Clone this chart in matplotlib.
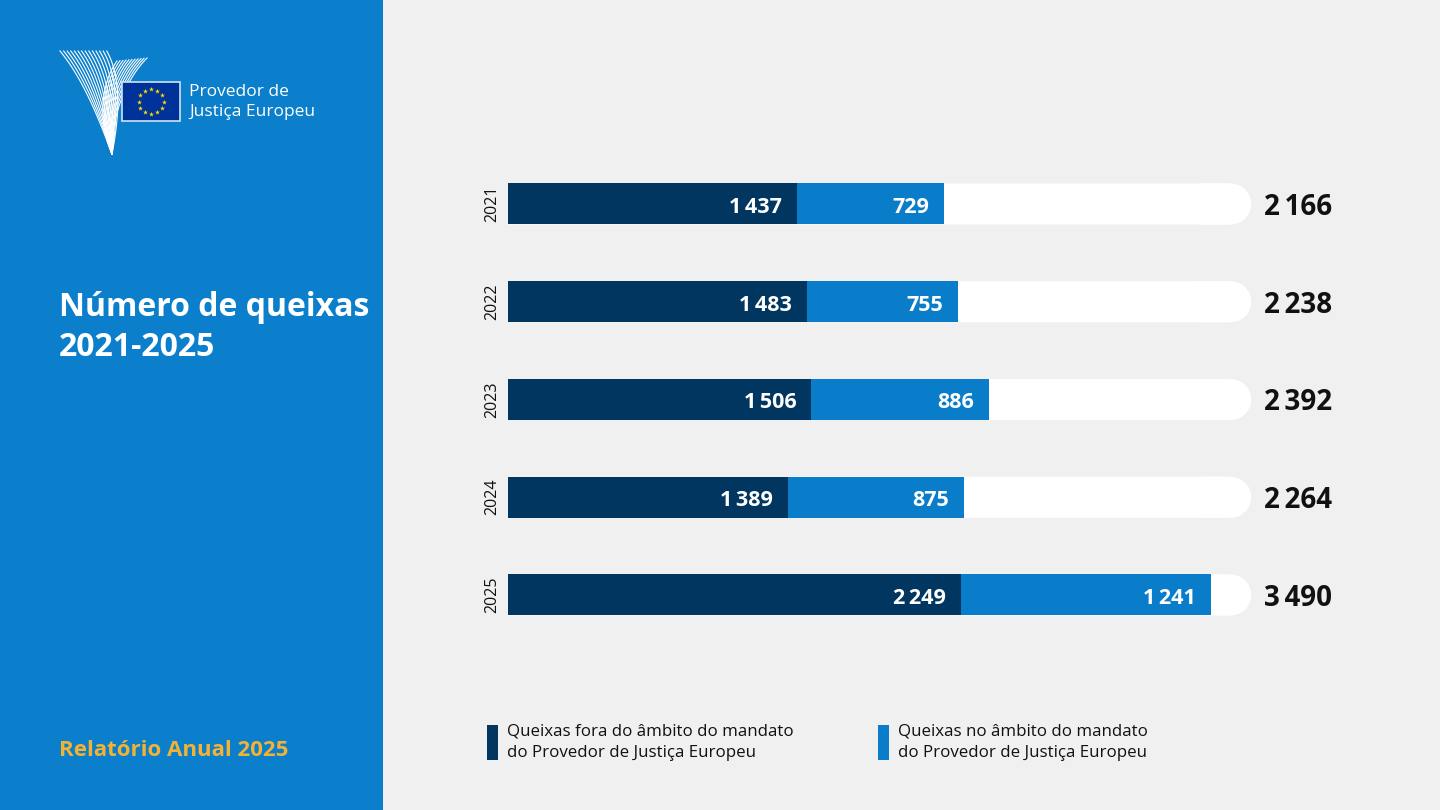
import numpy as np
import matplotlib
matplotlib.use('Agg')
import matplotlib.pyplot as plt
from matplotlib.patches import Rectangle

plt.rcParams['font.family'] = ['Open Sans', 'DejaVu Sans']

# data
years = ['2021', '2022', '2023', '2024', '2025']
outside = [1437, 1483, 1506, 1389, 2249]
inside = [729, 755, 886, 875, 1241]
totals = [2166, 2238, 2392, 2264, 3490]
track_max = 3690

navy = '#00365f'
light = '#0a7dca'
panel = '#0b7fcc'
bg = '#f0f0f0'
gold = '#f2b233'

W, H = 1440, 810
fig = plt.figure(figsize=(14.4, 8.1), dpi=100, facecolor=bg)


def fx(px):
    return px / W


def fy(py):
    return 1 - py / H


def fmt(v):
    s = str(v)
    if len(s) > 3:
        s = s[:-3] + '\u2006' + s[-3:]
    return s


def bez(p0, p1, p2, p3, n=50):
    t = np.linspace(0, 1, n)[:, None]
    p0, p1, p2, p3 = map(np.array, (p0, p1, p2, p3))
    return (1 - t) ** 3 * p0 + 3 * (1 - t) ** 2 * t * p1 + 3 * (1 - t) * t ** 2 * p2 + t ** 3 * p3


# left panel
fig.patches.append(Rectangle((0, 0), fx(383), 1, transform=fig.transFigure,
                             facecolor=panel, edgecolor='none', zorder=-5))

# bars axes, scale in px per complaint
x0 = 508
scale = 436 / 2166
row0, step = 204, 97.75
ax = fig.add_axes([0, 0, 1, 1])
ax.set_facecolor('none')
ax.set_xlim(-x0 / scale, (W - x0) / scale)
ax.set_ylim((H - row0) / step, -row0 / step)
ax.axis('off')

ypos = np.arange(len(years))
bh = 41 / step
# white track with rounded right end
cap = 20 / scale
ax.barh(ypos, [track_max - cap] * len(years), height=bh, color='white',
        zorder=1, snap=False)
for y in ypos:
    ax.plot([track_max - cap - 30 / scale, track_max - cap], [y, y], color='white',
            lw=41 * 0.72, solid_capstyle='round', zorder=1, snap=False)
ax.barh(ypos, outside, height=bh, color=navy, zorder=2)
ax.barh(ypos, inside, left=outside, height=bh, color=light, zorder=2)

pad = 15 / scale
dy = 3.5 / step
for y, a, b, t, yr in zip(ypos, outside, inside, totals, years):
    ax.text(a - pad, y + dy, fmt(a), ha='right', va='center', color='white',
            fontsize=15.5, fontweight='bold', zorder=3)
    ax.text(a + b - pad, y + dy, fmt(b), ha='right', va='center', color='white',
            fontsize=15.5, fontweight='bold', zorder=3)
    ax.text(track_max + 13 / scale, y + dy, fmt(t), ha='left', va='center',
            color='#111111', fontsize=20, fontweight='bold', zorder=3)
    ax.text(-16 / scale, y, yr, ha='center', va='center', rotation=90,
            color='#111111', fontsize=11.5, zorder=3)

# titles
fig.text(fx(59), fy(307), 'Número de queixas', color='white', fontsize=23,
         fontweight='bold', va='center', ha='left')
fig.text(fx(59), fy(347), '2021-2025', color='white', fontsize=23,
         fontweight='bold', va='center', ha='left')
fig.text(fx(59), fy(751), 'Relatório Anual 2025', color=gold, fontsize=16,
         fontweight='bold', va='center', ha='left')

# logo
lg = fig.add_axes([0, 0, 1, 1])
lg.set_xlim(0, W)
lg.set_ylim(H, 0)
lg.axis('off')
lg.set_facecolor('none')
for k in range(14):
    pts = bez((60 + 3.6 * k, 51), (84 + 3.0 * k, 80), (100 + 1.4 * k, 122), (112, 154))
    lg.plot(pts[:, 0], pts[:, 1], color='white', lw=0.8)
for k in range(11):
    pts = bez((117 + 3.0 * k, 61 - 0.3 * k), (103 + 2.2 * k, 80), (96 + 1.5 * k, 118), (112, 154))
    lg.plot(pts[:, 0], pts[:, 1], color='white', lw=0.8)
lg.add_patch(Rectangle((122, 82), 58, 39, facecolor='#003399',
                       edgecolor='#cfe3f5', lw=1.2, zorder=3))
ang = np.linspace(0, 2 * np.pi, 13)[:-1]
lg.scatter(151 + 12.5 * np.cos(ang), 101.5 + 12.5 * np.sin(ang), marker='*',
           s=14, color='#ffdd00', linewidths=0, zorder=4)
fig.text(fx(189), fy(92), 'Provedor de', color='white', fontsize=12.5, va='center')
fig.text(fx(189), fy(112), 'Justiça Europeu', color='white', fontsize=12.5, va='center')

# legend
for lx, col, l1 in [(487, navy, 'Queixas fora do âmbito do mandato'),
                    (878, light, 'Queixas no âmbito do mandato')]:
    fig.patches.append(Rectangle((fx(lx), fy(760)), fx(11), 35 / H,
                                 transform=fig.transFigure, facecolor=col,
                                 edgecolor='none'))
    fig.text(fx(lx + 20), fy(732), l1, color='#111111', fontsize=12.2, va='center')
    fig.text(fx(lx + 20), fy(753), 'do Provedor de Justiça Europeu',
             color='#111111', fontsize=12.2, va='center')

fig.savefig('out.png', dpi=100, facecolor=bg)
